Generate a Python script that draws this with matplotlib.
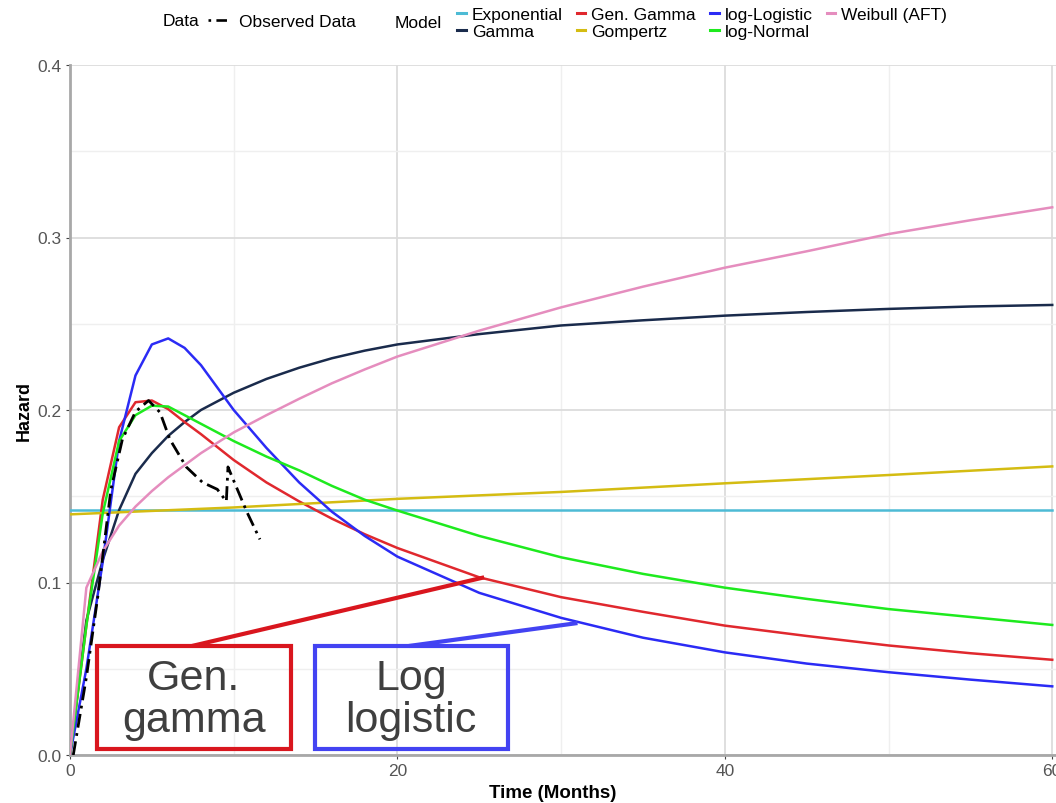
import matplotlib
matplotlib.use("Agg")
import matplotlib.pyplot as plt
from matplotlib.lines import Line2D
from matplotlib.patches import Rectangle

plt.rcParams['font.family'] = ['Liberation Sans', 'DejaVu Sans']

# fitted hazards, read on a common monthly grid
months = [0, 1, 2, 3, 4, 5, 6, 7, 8, 10, 12, 14, 16, 18, 20, 25, 30, 35, 40, 45, 50, 55, 60]

gamma_h = [0, 0.078, 0.113, 0.142, 0.163, 0.175, 0.185, 0.193, 0.2, 0.21, 0.218, 0.2245,
           0.23, 0.2344, 0.238, 0.244, 0.249, 0.252, 0.2547, 0.2568, 0.2586, 0.26, 0.2609]
gengamma_h = [0, 0.075, 0.148, 0.19, 0.2045, 0.2055, 0.2005, 0.193, 0.186, 0.171, 0.158, 0.147,
              0.137, 0.128, 0.12, 0.103, 0.0915, 0.083, 0.075, 0.069, 0.0635, 0.059, 0.0552]
loglogistic_h = [0, 0.05, 0.112, 0.182, 0.22, 0.238, 0.2415, 0.236, 0.226, 0.2, 0.178, 0.158,
                 0.141, 0.127, 0.115, 0.094, 0.0795, 0.068, 0.0595, 0.053, 0.048, 0.0437, 0.0398]
lognormal_h = [0, 0.075, 0.14, 0.182, 0.197, 0.2025, 0.202, 0.197, 0.192, 0.182, 0.173, 0.165,
               0.156, 0.148, 0.1417, 0.127, 0.1146, 0.105, 0.097, 0.0905, 0.0846, 0.08, 0.0754]
weibull_h = [0, 0.097, 0.118, 0.133, 0.144, 0.153, 0.161, 0.168, 0.175, 0.187, 0.197, 0.2065,
             0.2155, 0.2235, 0.231, 0.246, 0.2595, 0.2715, 0.2825, 0.292, 0.302, 0.31, 0.3175]

exp_t = [0, 30, 60]
exp_h = [0.142, 0.142, 0.142]

gompertz_t = [0, 10, 20, 30, 40, 50, 60]
gompertz_h = [0.1395, 0.1435, 0.1485, 0.1525, 0.1575, 0.1623, 0.1673]

# smoothed observed hazard
obs_t = [0.2, 1.0, 1.7, 2.5, 3.2, 4.0, 4.8, 5.5, 6.1, 7.1, 8.1, 9.0, 9.55, 9.65, 10.0, 10.8, 11.6]
obs_h = [0.0, 0.045, 0.092, 0.154, 0.183, 0.199, 0.2055, 0.1986, 0.183, 0.167, 0.158, 0.154,
         0.147, 0.167, 0.159, 0.141, 0.125]

model_names = ['Exponential', 'Gamma', 'Gen. Gamma', 'Gompertz',
               'log-Logistic', 'log-Normal', 'Weibull (AFT)']
model_colors = ['#4DBBD5', '#1A2B4C', '#E0282E', '#D4BC12', '#2B2BF5', '#1EEA1E', '#E58DBE']
model_series = [(exp_t, exp_h), (months, gamma_h), (months, gengamma_h),
                (gompertz_t, gompertz_h), (months, loglogistic_h),
                (months, lognormal_h), (months, weibull_h)]

fig = plt.figure(figsize=(10.56, 8.04), dpi=100)
ax = fig.add_axes([70 / 1056, 48 / 804, 986 / 1056, 690 / 804])

for (t, h), c in zip(model_series, model_colors):
    ax.plot(t, h, color=c, lw=1.8, solid_joinstyle='round', zorder=3)

ax.plot(obs_t, obs_h, color='black', lw=2.0, dashes=(5, 2, 1, 2), zorder=4)

ax.set_xlim(0, 60.23)
ax.set_ylim(0, 0.4)
ax.set_xticks([0, 20, 40, 60])
ax.set_xticks([10, 30, 50], minor=True)
ax.set_yticks([0, 0.1, 0.2, 0.3, 0.4])
ax.set_yticks([0.05, 0.15, 0.25, 0.35], minor=True)
ax.set_yticklabels(['0.0', '0.1', '0.2', '0.3', '0.4'])

ax.grid(which='major', color='#DCDCDC', lw=1.3)
ax.grid(which='minor', color='#EFEFEF', lw=1.0)
ax.set_axisbelow(True)
for side in ['top', 'right']:
    ax.spines[side].set_visible(False)
for side in ['left', 'bottom']:
    ax.spines[side].set_color('#A8A8A8')
    ax.spines[side].set_linewidth(2.0)
ax.tick_params(which='major', length=3, width=0.8, color='#444444',
               labelsize=12.5, labelcolor='#555555', pad=3)
ax.tick_params(which='minor', length=0)

ax.set_xlabel('Time (Months)', fontsize=13.5, fontweight='bold')
ax.set_ylabel('Hazard', fontsize=13, fontweight='bold')
ax.xaxis.set_label_coords(0.49, -0.042)
ax.yaxis.set_label_coords(-0.038, 0.5)

# call-out boxes for the two models discussed
callouts = [
    ('Gen.\ngamma', '#D9161E', (1.65, 0.0035), 11.85, (7.57, 0.0336), (7.45, 0.0632), (25.3, 0.103)),
    ('Log\nlogistic', '#4343F2', (14.97, 0.0035), 11.8, (20.83, 0.0336), (20.7, 0.0632), (31.0, 0.0765)),
]
for label, col, corner, w, centre, start, tip in callouts:
    ax.add_patch(Rectangle(corner, w, 0.0597, fill=False, edgecolor=col, lw=3, zorder=6))
    ax.plot([start[0], tip[0]], [start[1], tip[1]], color=col, lw=3, zorder=6,
            solid_capstyle='butt')
    ax.text(centre[0], centre[1] - 0.001, label, ha='center', va='center', fontsize=31,
            color='#3F3F3F', linespacing=1.08, zorder=7)

# legend strip along the top
fig.text(163 / 1056, 1 - 22 / 804, 'Data', fontsize=12.5, va='center', ha='left')
fig.text(395 / 1056, 1 - 24 / 804, 'Model', fontsize=12.5, va='center', ha='left')

obs_handle = Line2D([], [], color='black', lw=1.9, dashes=(1, 2, 4, 2))
fig.legend([obs_handle], ['Observed Data'], loc='center left',
           bbox_to_anchor=(208 / 1056, 1 - 22 / 804), frameon=False, fontsize=12.5,
           handlelength=1.3, handletextpad=0.5, borderpad=0, borderaxespad=0)

model_handles = [Line2D([], [], color=c, lw=2.2) for c in model_colors]
fig.legend(model_handles, model_names, loc='center left', ncol=4,
           bbox_to_anchor=(457 / 1056, 1 - 24 / 804), frameon=False, fontsize=12.5,
           handlelength=0.5, handletextpad=0.35, columnspacing=0.8, labelspacing=0.15,
           borderpad=0, borderaxespad=0)

fig.savefig('out.png', dpi=100)
